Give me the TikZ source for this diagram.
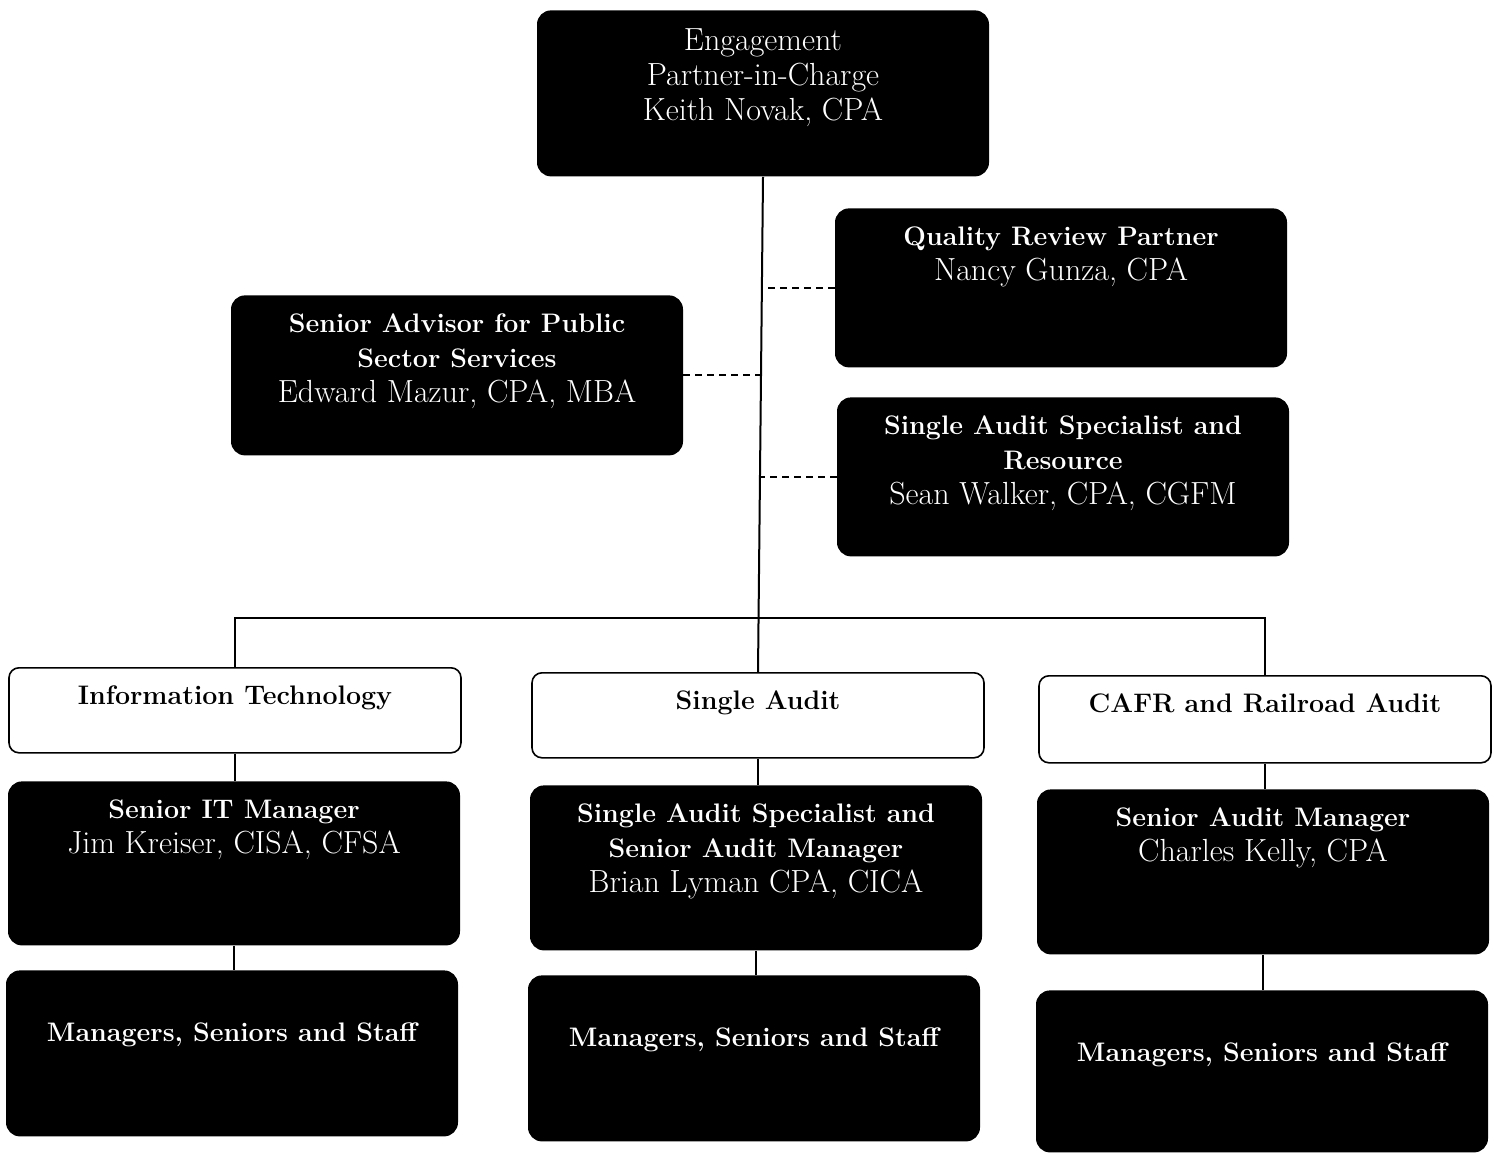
\documentclass[tikz,border=0pt]{standalone}
\newcommand\hd{\fontsize{13.4}{17.5}\selectfont\bfseries}
\newcommand\cell[2]{\parbox[c][\dimexpr#1-18pt\relax][t]{218pt}{\centering #2}}
\tikzset{
  dark/.style={anchor=north,fill=black,text=white,rounded corners=7pt,inner xsep=4pt,inner ysep=9pt,font=\fontsize{16}{17.5}\selectfont},
  unit/.style={anchor=north,draw=black,line width=0.8pt,fill=white,text=black,rounded corners=5pt,inner xsep=4pt,inner ysep=9pt,font=\fontsize{16}{17.5}\selectfont},
  link/.style={line width=1pt},
  aside/.style={line width=1pt,dash pattern=on 3.5pt off 2.5pt}
}
\begin{document}
\begin{tikzpicture}[x=0.5pt,y=-0.5pt]
\useasboundingbox (0,0) rectangle (1498,1154);
% partner and advisers
\node[dark] (epic) at (763,10) {\cell{83pt}{Engagement\\Partner-in-Charge\\Keith Novak, CPA}};
\node[dark] (qrp) at (1061,208) {\cell{79.5pt}{{\hd Quality Review Partner}\\Nancy Gunza, CPA}};
\node[dark] (advisor) at (457,295) {\cell{80pt}{{\hd Senior Advisor for Public}\\{\hd Sector Services}\\Edward Mazur, CPA, MBA}};
\node[dark] (sasr) at (1063,397) {\cell{79.5pt}{{\hd Single Audit Specialist and}\\{\hd Resource}\\Sean Walker, CPA, CGFM}};
% practice areas
\node[unit] (it) at (235,667) {\cell{42.5pt}{{\hd Information Technology}}};
\node[unit] (sa) at (758,672) {\cell{42.5pt}{{\hd Single Audit}}};
\node[unit] (cafr) at (1265,675) {\cell{43.5pt}{{\hd CAFR and Railroad Audit}}};
% managers
\node[dark] (itmgr) at (234,781) {\cell{82pt}{{\hd Senior IT Manager}\\Jim Kreiser, CISA, CFSA}};
\node[dark] (samgr) at (756,785) {\cell{82.5pt}{{\hd Single Audit Specialist and}\\{\hd Senior Audit Manager}\\Brian Lyman CPA, CICA}};
\node[dark] (cafrmgr) at (1263,789) {\cell{82.5pt}{{\hd Senior Audit Manager}\\Charles Kelly, CPA}};
% staff
\node[dark] (itstaff) at (232,970) {\cell{83pt}{\vspace*{17pt}{\hd Managers, Seniors and Staff}}};
\node[dark] (sastaff) at (754,975) {\cell{83pt}{\vspace*{17pt}{\hd Managers, Seniors and Staff}}};
\node[dark] (cafrstaff) at (1262,990) {\cell{81pt}{\vspace*{17pt}{\hd Managers, Seniors and Staff}}};
% connectors
\coordinate (spine) at (761,618);
\coordinate (bus) at (0,618);
\draw[link] (epic.south) -- (sa.north);
\draw[link] (it.north) -- (it.north |- bus) -- (cafr.north |- bus) -- (cafr.north);
\draw[aside] (qrp.west) -- (qrp.west -| spine);
\draw[aside] (advisor.east) -- (advisor.east -| spine);
\draw[aside] (sasr.west) -- (sasr.west -| spine);
\foreach \a/\b in {it/itmgr,itmgr/itstaff,sa/samgr,samgr/sastaff,cafr/cafrmgr,cafrmgr/cafrstaff}
  \draw[link] (\a.south) -- (\a.south |- \b.north);
\end{tikzpicture}
\end{document}
